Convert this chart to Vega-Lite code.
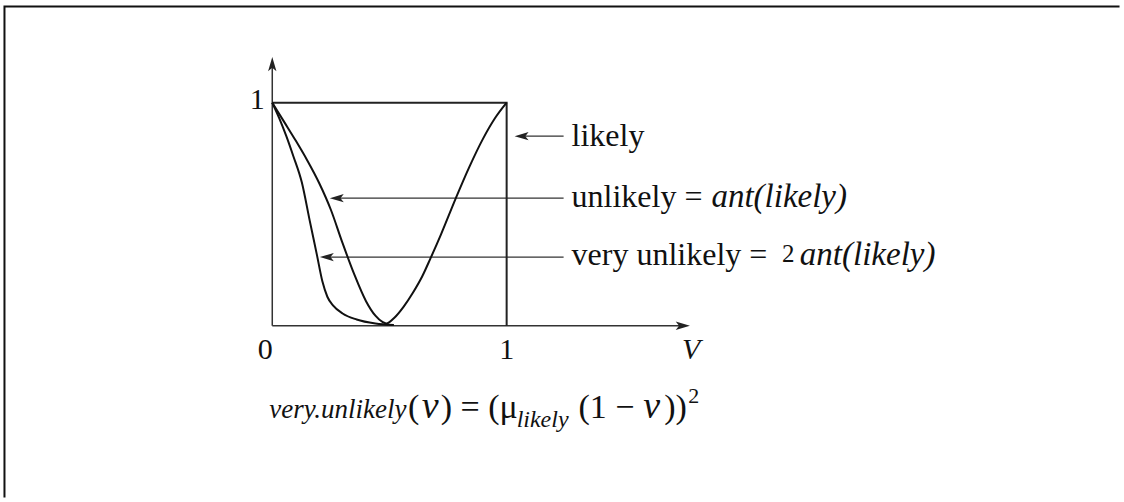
{
  "$schema": "https://vega.github.io/schema/vega-lite/v6.json",
  "width": 1124,
  "height": 502,
  "padding": 0,
  "autosize": {"type": "fit", "contains": "padding"},
  "background": "white",
  "config": {"view": {"stroke": null}},
  "datasets": {
    "frame": [
      {"i": 0, "x": -1.1426, "y": -0.77},
      {"i": 1, "x": -1.1426, "y": 1.4314},
      {"i": 2, "x": 3.615, "y": 1.4314}
    ],
    "axes": [
      {"x": 0, "y": 0, "x2": 0, "y2": 1.18},
      {"x": 0, "y": 0, "x2": 1.757, "y2": 0}
    ],
    "upHeads": [{"x": 0, "y": 1.205}],
    "rightHeads": [{"x": 1.782, "y": 0}],
    "pointers": [
      {"x": 1.055, "x2": 1.243, "y": 0.85},
      {"x": 0.2665, "x2": 1.243, "y": 0.572},
      {"x": 0.224, "x2": 1.243, "y": 0.308}
    ],
    "leftHeads": [
      {"x": 1.034, "y": 0.85},
      {"x": 0.2455, "y": 0.572},
      {"x": 0.203, "y": 0.308}
    ],
    "likely": [
      {"i": 0, "x": 0, "y": 1},
      {"i": 1, "x": 1, "y": 1},
      {"i": 2, "x": 1, "y": 0}
    ],
    "curves": [
      {"series": "unlikely", "x": 0, "y": 1},
      {"series": "unlikely", "x": 0.05, "y": 0.915},
      {"series": "unlikely", "x": 0.1, "y": 0.83},
      {"series": "unlikely", "x": 0.15, "y": 0.74},
      {"series": "unlikely", "x": 0.2, "y": 0.64},
      {"series": "unlikely", "x": 0.25, "y": 0.52},
      {"series": "unlikely", "x": 0.3, "y": 0.37},
      {"series": "unlikely", "x": 0.35, "y": 0.23},
      {"series": "unlikely", "x": 0.4, "y": 0.11},
      {"series": "unlikely", "x": 0.44, "y": 0.045},
      {"series": "unlikely", "x": 0.47, "y": 0.017},
      {"series": "unlikely", "x": 0.486, "y": 0.01},
      {"series": "unlikely", "x": 0.52, "y": 0.035},
      {"series": "unlikely", "x": 0.56, "y": 0.085},
      {"series": "unlikely", "x": 0.6, "y": 0.148},
      {"series": "unlikely", "x": 0.64, "y": 0.222},
      {"series": "unlikely", "x": 0.675, "y": 0.302},
      {"series": "unlikely", "x": 0.72, "y": 0.41},
      {"series": "unlikely", "x": 0.782, "y": 0.569},
      {"series": "unlikely", "x": 0.84, "y": 0.71},
      {"series": "unlikely", "x": 0.9, "y": 0.84},
      {"series": "unlikely", "x": 0.95, "y": 0.93},
      {"series": "unlikely", "x": 1, "y": 1},
      {"series": "very", "x": 0, "y": 1},
      {"series": "very", "x": 0.03, "y": 0.93},
      {"series": "very", "x": 0.06, "y": 0.85},
      {"series": "very", "x": 0.09, "y": 0.76},
      {"series": "very", "x": 0.126, "y": 0.643},
      {"series": "very", "x": 0.16, "y": 0.47},
      {"series": "very", "x": 0.19, "y": 0.32},
      {"series": "very", "x": 0.214, "y": 0.198},
      {"series": "very", "x": 0.235, "y": 0.13},
      {"series": "very", "x": 0.26, "y": 0.09},
      {"series": "very", "x": 0.3, "y": 0.055},
      {"series": "very", "x": 0.36, "y": 0.028},
      {"series": "very", "x": 0.44, "y": 0.01},
      {"series": "very", "x": 0.519, "y": 0.003}
    ],
    "labelsNormal": [
      {"x": 1.277, "y": 0.8066, "t": "likely"},
      {"x": 1.277, "y": 0.532, "t": "unlikely ="},
      {"x": 1.277, "y": 0.272, "t": "very unlikely ="}
    ],
    "labelsItalic": [
      {"x": 1.8737, "y": 0.532, "t": "ant(likely)"},
      {"x": 2.2511, "y": 0.272, "t": "ant(likely)"}
    ],
    "labelsSup": [
      {"x": 2.1745, "y": 0.272, "t": "2"}
    ],
    "axisNums": [
      {"x": -0.03, "y": -0.148, "t": "0"},
      {"x": 1.0, "y": -0.148, "t": "1"},
      {"x": -0.064, "y": 0.973, "t": "1"}
    ],
    "axisVar": [
      {"x": 1.787, "y": -0.148, "t": "V"}
    ],
    "fSmallItalic": [
      {"x": -0.0128, "y": -0.4158, "t": "very.unlikely"}
    ],
    "fNormal": [
      {"x": 0.5787, "y": -0.4158, "t": "("},
      {"x": 0.719, "y": -0.4158, "t": ") = (μ"},
      {"x": 1.3064, "y": -0.4158, "t": "(1 − "},
      {"x": 1.6723, "y": -0.4158, "t": "))"}
    ],
    "fItalic": [
      {"x": 0.6383, "y": -0.4158, "t": "v"},
      {"x": 1.583, "y": -0.4158, "t": "v"}
    ],
    "fSub": [
      {"x": 1.0426, "y": -0.4559, "t": "likely"}
    ],
    "fSup": [
      {"x": 1.7745, "y": -0.3445, "t": "2"}
    ]
  },
  "encoding": {
    "x": {"field": "x", "type": "quantitative", "axis": null, "scale": {"domain": [-1.161702, 3.621277], "nice": false, "zero": false}},
    "y": {"field": "y", "type": "quantitative", "axis": null, "scale": {"domain": [-0.776738, 1.460339], "nice": false, "zero": false}}
  },
  "layer": [
    {
      "data": {"name": "frame"},
      "mark": {"type": "line", "color": "#111111", "strokeWidth": 2},
      "encoding": {"order": {"field": "i", "type": "quantitative"}}
    },
    {
      "data": {"name": "axes"},
      "mark": {"type": "rule", "color": "#333333", "strokeWidth": 1.5},
      "encoding": {"x2": {"field": "x2"}, "y2": {"field": "y2"}}
    },
    {
      "data": {"name": "upHeads"},
      "mark": {"type": "point", "shape": "M0,0 L0.5,1.7 L0,1.3 L-0.5,1.7 Z", "filled": true, "color": "#222222", "opacity": 1, "size": 280, "angle": 0}
    },
    {
      "data": {"name": "rightHeads"},
      "mark": {"type": "point", "shape": "M0,0 L0.5,1.7 L0,1.3 L-0.5,1.7 Z", "filled": true, "color": "#222222", "opacity": 1, "size": 280, "angle": 90}
    },
    {
      "data": {"name": "pointers"},
      "mark": {"type": "rule", "color": "#333333", "strokeWidth": 1.3},
      "encoding": {"x2": {"field": "x2"}}
    },
    {
      "data": {"name": "leftHeads"},
      "mark": {"type": "point", "shape": "M0,0 L0.5,1.7 L0,1.3 L-0.5,1.7 Z", "filled": true, "color": "#222222", "opacity": 1, "size": 270, "angle": 270}
    },
    {
      "data": {"name": "likely"},
      "mark": {"type": "line", "color": "#222222", "strokeWidth": 2},
      "encoding": {"order": {"field": "i", "type": "quantitative"}}
    },
    {
      "data": {"name": "curves"},
      "mark": {"type": "line", "color": "#111111", "strokeWidth": 2, "interpolate": "monotone"},
      "encoding": {"detail": {"field": "series", "type": "nominal"}}
    },
    {
      "data": {"name": "labelsNormal"},
      "mark": {"type": "text", "font": "Liberation Serif", "fontSize": 32, "align": "left", "baseline": "alphabetic", "color": "#111111"},
      "encoding": {"text": {"field": "t"}}
    },
    {
      "data": {"name": "labelsItalic"},
      "mark": {"type": "text", "font": "Liberation Serif", "fontStyle": "italic", "fontSize": 33, "align": "left", "baseline": "alphabetic", "color": "#111111"},
      "encoding": {"text": {"field": "t"}}
    },
    {
      "data": {"name": "labelsSup"},
      "mark": {"type": "text", "font": "Liberation Serif", "fontSize": 25, "align": "left", "baseline": "alphabetic", "dy": -3, "color": "#111111"},
      "encoding": {"text": {"field": "t"}}
    },
    {
      "data": {"name": "axisNums"},
      "mark": {"type": "text", "font": "Liberation Serif", "fontSize": 30, "align": "center", "baseline": "alphabetic", "color": "#111111"},
      "encoding": {"text": {"field": "t"}}
    },
    {
      "data": {"name": "axisVar"},
      "mark": {"type": "text", "font": "Liberation Serif", "fontStyle": "italic", "fontSize": 30, "align": "center", "baseline": "alphabetic", "color": "#111111"},
      "encoding": {"text": {"field": "t"}}
    },
    {
      "data": {"name": "fSmallItalic"},
      "mark": {"type": "text", "font": "Liberation Serif", "fontStyle": "italic", "fontSize": 27, "align": "left", "baseline": "alphabetic", "color": "#111111"},
      "encoding": {"text": {"field": "t"}}
    },
    {
      "data": {"name": "fNormal"},
      "mark": {"type": "text", "font": "Liberation Serif", "fontSize": 34, "align": "left", "baseline": "alphabetic", "color": "#111111"},
      "encoding": {"text": {"field": "t"}}
    },
    {
      "data": {"name": "fItalic"},
      "mark": {"type": "text", "font": "Liberation Serif", "fontStyle": "italic", "fontSize": 38, "align": "left", "baseline": "alphabetic", "color": "#111111"},
      "encoding": {"text": {"field": "t"}}
    },
    {
      "data": {"name": "fSub"},
      "mark": {"type": "text", "font": "Liberation Serif", "fontStyle": "italic", "fontSize": 24, "align": "left", "baseline": "alphabetic", "color": "#111111"},
      "encoding": {"text": {"field": "t"}}
    },
    {
      "data": {"name": "fSup"},
      "mark": {"type": "text", "font": "Liberation Serif", "fontSize": 22, "align": "left", "baseline": "alphabetic", "color": "#111111"},
      "encoding": {"text": {"field": "t"}}
    }
  ]
}
